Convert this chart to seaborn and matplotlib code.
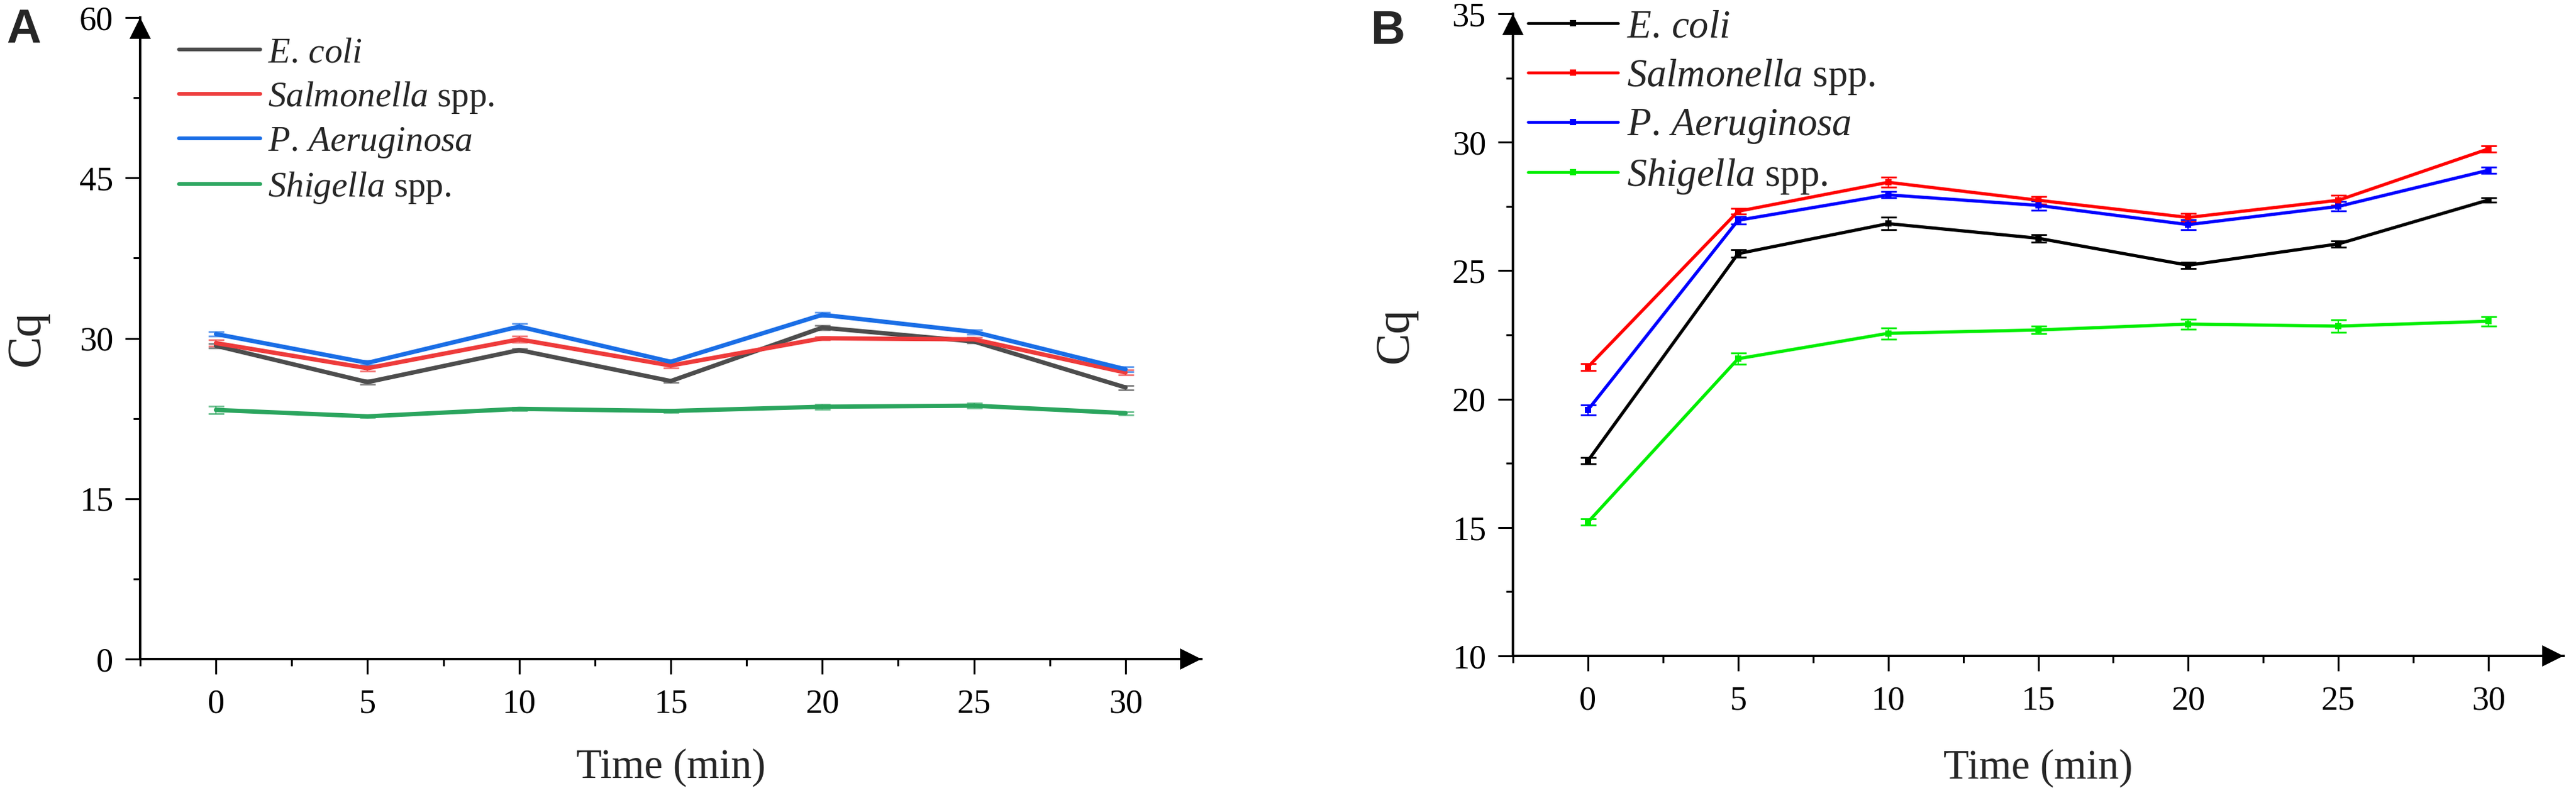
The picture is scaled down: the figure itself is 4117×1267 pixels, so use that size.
import numpy as np
import pandas as pd
import seaborn as sns
import matplotlib.pyplot as plt
from matplotlib.lines import Line2D
from matplotlib.ticker import MultipleLocator, FixedLocator
from matplotlib.transforms import offset_copy

# ---- data ----
time_min = [0, 5, 10, 15, 20, 25, 30]
species = ["E. coli", "Salmonella spp.", "P. Aeruginosa", "Shigella spp."]
legend_labels = [r"$\it{E.\,coli}$", r"$\it{Salmonella}$ spp.",
                 r"$\it{P.\,Aeruginosa}$", r"$\it{Shigella}$ spp."]

# panel A
a_ecoli = [29.3, 25.9, 28.9, 26.0, 31.0, 29.7, 25.4]
a_salm = [29.55, 27.2, 29.9, 27.45, 30.0, 29.9, 26.8]
a_paer = [30.4, 27.7, 31.1, 27.8, 32.2, 30.6, 27.1]
a_shig = [23.3, 22.7, 23.4, 23.2, 23.6, 23.7, 23.0]
a_ecoli_err = [0.2, 0.2, 0.15, 0.15, 0.2, 0.15, 0.2]
a_salm_err = [0.3, 0.25, 0.3, 0.25, 0.15, 0.2, 0.25]
a_paer_err = [0.2, 0.2, 0.25, 0.2, 0.2, 0.2, 0.25]
a_shig_err = [0.35, 0.1, 0.15, 0.15, 0.25, 0.25, 0.15]

# panel B
b_ecoli = [17.6, 25.66, 26.83, 26.26, 25.21, 26.04, 27.75]
b_salm = [21.25, 27.31, 28.44, 27.74, 27.07, 27.74, 29.74]
b_paer = [19.58, 26.96, 27.95, 27.54, 26.79, 27.50, 28.91]
b_shig = [15.21, 21.57, 22.56, 22.69, 22.92, 22.84, 23.03]
b_ecoli_err = [0.13, 0.15, 0.24, 0.15, 0.12, 0.12, 0.08]
b_salm_err = [0.14, 0.1, 0.2, 0.15, 0.15, 0.2, 0.12]
b_paer_err = [0.19, 0.15, 0.12, 0.18, 0.2, 0.18, 0.12]
b_shig_err = [0.12, 0.22, 0.22, 0.15, 0.2, 0.25, 0.18]

colors_a = ["#4d4d4d", "#ee3b3b", "#1a6ee6", "#2ba55e"]
colors_b = ["#000000", "#ff0000", "#0000ff", "#00ee00"]


def make_frame(vals, errs):
    rows = []
    for sp, v, e in zip(species, vals, errs):
        for t, y, s in zip(time_min, v, e):
            rows.append({"Time": t, "Species": sp, "Cq": y, "err": s})
    return pd.DataFrame(rows)


df_a = make_frame([a_ecoli, a_salm, a_paer, a_shig],
                  [a_ecoli_err, a_salm_err, a_paer_err, a_shig_err])
df_b = make_frame([b_ecoli, b_salm, b_paer, b_shig],
                  [b_ecoli_err, b_salm_err, b_paer_err, b_shig_err])

sns.set_style("ticks")
plt.rcParams["font.family"] = ["Liberation Serif", "DejaVu Serif"]
plt.rcParams["mathtext.fontset"] = "custom"
plt.rcParams["mathtext.it"] = "Liberation Serif:italic"
plt.rcParams["mathtext.rm"] = "Liberation Serif"

W, H = 4117, 1267
fig = plt.figure(figsize=(W / 100, H / 100), dpi=100)


def px_axes(left, right, top, bottom):
    return fig.add_axes([left / W, 1 - bottom / H, (right - left) / W, (bottom - top) / H])


ax_a = px_axes(224, 1920, 28, 1053)
ax_b = px_axes(2418, 4097, 22, 1048)

ARROW = 25


def style_axes(ax, ylim, ymajor, yminor):
    ax.set_xlim(-2.5, 32.5)
    ax.set_ylim(*ylim)
    ax.xaxis.set_major_locator(FixedLocator(time_min))
    ax.xaxis.set_minor_locator(FixedLocator(np.arange(-2.5, 30, 5)))
    ax.yaxis.set_major_locator(MultipleLocator(ymajor))
    ax.yaxis.set_minor_locator(FixedLocator(yminor))
    for s in ["top", "right"]:
        ax.spines[s].set_visible(False)
    for s in ["left", "bottom"]:
        ax.spines[s].set_linewidth(2.8)
        ax.spines[s].set_color("black")
    ax.tick_params(axis="both", which="major", direction="out", length=17,
                   width=2.2, labelsize=39, color="black", labelcolor="black",
                   labelfontfamily="Liberation Serif")
    ax.tick_params(axis="both", which="minor", direction="out", length=8,
                   width=2.2, color="black")
    ax.tick_params(axis="x", which="major", pad=17)
    ax.tick_params(axis="y", which="major", pad=14)
    # arrow heads at the ends of both axes
    tx = offset_copy(ax.transAxes, fig=fig, x=-ARROW / 2, y=0, units="points")
    ax.plot(1, 0, marker=">", ms=ARROW, mew=0, color="black", transform=tx, clip_on=False)
    ty = offset_copy(ax.transAxes, fig=fig, x=0, y=-ARROW / 2, units="points")
    ax.plot(0, 1, marker="^", ms=ARROW, mew=0, color="black", transform=ty, clip_on=False)
    ax.set_xlabel("Time (min)", fontsize=48)
    ax.set_ylabel("Cq", fontsize=55)
    ax.set_facecolor("white")


# ---- panel A ----
sns.lineplot(data=df_a, x="Time", y="Cq", hue="Species", hue_order=species,
             palette=colors_a, linewidth=5.0, legend=False, ax=ax_a, zorder=3)
for sp, c in zip(species, colors_a):
    d = df_a[df_a["Species"] == sp]
    ax_a.errorbar(d["Time"], d["Cq"], yerr=d["err"], fmt="none", ecolor=c,
                  alpha=0.7, elinewidth=1.5, capsize=9, capthick=2, zorder=2)
style_axes(ax_a, (0, 60), 15, [7.5, 22.5, 37.5, 52.5])
ax_a.yaxis.get_major_ticks()[-1].tick1line.set_visible(False)
handles_a = [Line2D([], [], color=c, lw=4.3) for c in colors_a]
ax_a.legend(handles_a, legend_labels, loc="upper left",
            bbox_to_anchor=(286 / W, 1 - 59 / H), bbox_transform=fig.transFigure,
            frameon=False, borderpad=0, borderaxespad=0, fontsize=41,
            handlelength=2.28, handletextpad=0.21, labelspacing=0.30)

# ---- panel B ----
sns.lineplot(data=df_b, x="Time", y="Cq", hue="Species", hue_order=species,
             palette=colors_b, linewidth=3.7, marker="s", markersize=7.5,
             markeredgewidth=0, legend=False, ax=ax_b, zorder=3)
for sp, c in zip(species, colors_b):
    d = df_b[df_b["Species"] == sp]
    ax_b.errorbar(d["Time"], d["Cq"], yerr=d["err"], fmt="none", ecolor=c,
                  elinewidth=1.5, capsize=9, capthick=2, zorder=2)
style_axes(ax_b, (10, 35), 5, [12.5, 17.5, 22.5, 27.5, 32.5])
ax_b.yaxis.get_major_ticks()[-1].tick1line.set_visible(False)
handles_b = [Line2D([], [], color=c, lw=3.3, marker="s", ms=7.5, mew=0) for c in colors_b]
ax_b.legend(handles_b, legend_labels, loc="upper left",
            bbox_to_anchor=(2442 / W, 1 - 15 / H), bbox_transform=fig.transFigure,
            frameon=False, borderpad=0, borderaxespad=0, fontsize=45,
            handlelength=2.3, handletextpad=0.22, labelspacing=0.30)

ax_a.xaxis.set_label_coords(0.5, -0.1385)
ax_b.xaxis.set_label_coords(0.5, -0.145)
ax_a.yaxis.set_label_coords(-0.086, 0.5)
ax_b.yaxis.set_label_coords(-0.091, 0.5)

fig.text(10 / W, 1 - 68 / H, "A", fontsize=55, fontweight="bold",
         family="Liberation Sans", va="baseline", ha="left")
fig.text(2191 / W, 1 - 70 / H, "B", fontsize=55, fontweight="bold",
         family="Liberation Sans", va="baseline", ha="left")

fig.savefig("out.png", dpi=100, facecolor="white")
